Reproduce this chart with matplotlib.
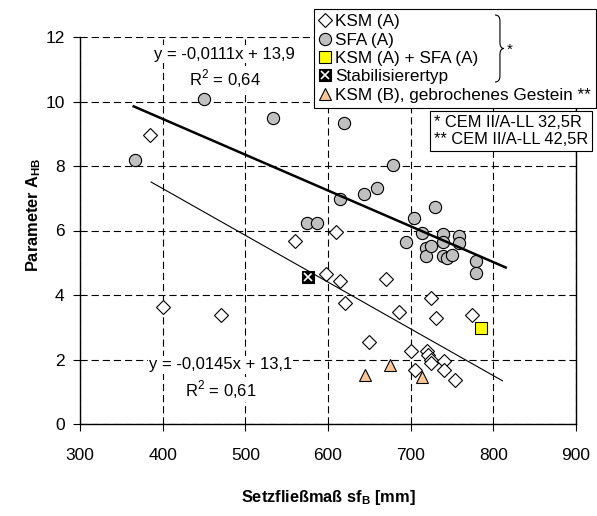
"""
Setzfliessmass vs. Parameter A_HB
=================================

Scatter chart with two linear trend lines.
"""

import matplotlib

matplotlib.use("Agg")

import matplotlib.pyplot as plt
from matplotlib.patches import PathPatch
from matplotlib.path import Path
import numpy as np

# =============================================================================
# DATA
# =============================================================================

ksm_a_x = [385, 401, 471, 560, 598, 610, 614, 620, 650, 670, 686, 700,
           705, 720, 721, 725, 725, 725, 731, 740, 740, 754, 774]
ksm_a_y = [8.96, 3.62, 3.38, 5.68, 4.65, 5.96, 4.44, 3.74, 2.53, 4.50, 3.46,
           2.25, 1.67, 2.27, 2.15, 3.90, 2.00, 1.88, 3.28, 1.96, 1.67, 1.36,
           3.39]

sfa_a_x = [366, 450, 534, 574, 587, 614, 619, 644, 659, 679, 694, 704, 714,
           718, 719, 724, 730, 739, 739, 739, 744, 750, 759, 759, 779, 779]
sfa_a_y = [8.19, 10.08, 9.50, 6.24, 6.24, 6.98, 9.32, 7.12, 7.32, 8.03, 5.65,
           6.40, 5.93, 5.46, 5.21, 5.52, 6.74, 5.88, 5.63, 5.22, 5.14, 5.25,
           5.83, 5.62, 5.06, 4.69]

mix_x = [785]
mix_y = [2.98]

stab_x = [576]
stab_y = [4.57]

ksm_b_x = [645, 675, 714]
ksm_b_y = [1.52, 1.83, 1.47]

# trend lines: slope, intercept, x range as drawn
trend_upper = (-0.0111, 13.9, 365, 815)
trend_lower = (-0.0145, 13.1, 386, 811)

x_ticks = [300, 400, 500, 600, 700, 800, 900]
y_ticks = [0, 2, 4, 6, 8, 10, 12]

legend_labels = [
    "KSM (A)",
    "SFA (A)",
    "KSM (A) + SFA (A)",
    "Stabilisierertyp",
    "KSM (B), gebrochenes Gestein **",
]

# =============================================================================
# STYLE
# =============================================================================

plt.rcParams["font.family"] = ["Liberation Sans", "DejaVu Sans"]
plt.rcParams["mathtext.fontset"] = "custom"
plt.rcParams["mathtext.rm"] = "Liberation Sans"
plt.rcParams["mathtext.bf"] = "Liberation Sans:bold"

W, H = 597, 516
GRID_DASH = (0, (6.5, 3.5))


def fx(px):
    return px / W


def fy(py):
    return 1 - py / H


def draw_brace(fig, x0, y_top, y_bot, width):
    """
    Draw a right curly brace in figure pixel coordinates.
    """

    ym = (y_top + y_bot) / 2
    xm = x0 + width * 0.55
    xt = x0 + width
    r = 6
    verts = [
        (x0, y_top), (xm, y_top), (xm, y_top + r),
        (xm, ym - r), (xm, ym), (xt, ym),
        (xm, ym), (xm, ym + r),
        (xm, y_bot - r), (xm, y_bot), (x0, y_bot),
    ]
    codes = [
        Path.MOVETO, Path.CURVE3, Path.CURVE3,
        Path.LINETO, Path.CURVE3, Path.CURVE3,
        Path.CURVE3, Path.CURVE3,
        Path.LINETO, Path.CURVE3, Path.CURVE3,
    ]
    verts = [(fx(a), fy(b)) for a, b in verts]
    patch = PathPatch(Path(verts, codes), transform=fig.transFigure,
                      facecolor="none", edgecolor="black", lw=0.8,
                      zorder=10)
    fig.add_artist(patch)


# =============================================================================
# FIGURE
# =============================================================================

fig = plt.figure(figsize=(W / 100, H / 100), dpi=100)
ax = fig.add_axes([fx(80), fy(424), fx(576) - fx(80), fy(37) - fy(424)])

ax.set_xlim(300, 900)
ax.set_ylim(0, 12)
ax.set_xticks(x_ticks)
ax.set_yticks(y_ticks)
ax.tick_params(direction="out", length=5, width=0.8, labelsize=12.5,
               colors="black")
ax.tick_params(axis="x", pad=12)
ax.tick_params(axis="y", pad=6)

ax.grid(True, color="black", linestyle=GRID_DASH, linewidth=0.8)
ax.set_axisbelow(True)
for side in ["left", "bottom", "right"]:
    ax.spines[side].set_linewidth(1.0)
ax.spines["top"].set_visible(False)

ax.set_xlabel(r"Setzfließmaß sf$_\mathbf{B}$ [mm]", fontsize=11.8,
              fontweight="bold", labelpad=18)
ax.set_ylabel(r"Parameter A$_\mathbf{HB}$", fontsize=11.8,
              fontweight="bold")
ax.yaxis.set_label_coords(-0.075, 0.54)

# scatter series
h_ksm, = ax.plot(ksm_a_x, ksm_a_y, "D", ms=7, mfc="white", mec="black",
                 mew=0.8, zorder=3)
h_sfa, = ax.plot(sfa_a_x, sfa_a_y, "o", ms=8.8, mfc="#c0c0c0", mec="black",
                 mew=0.8, zorder=3)
h_mix, = ax.plot(mix_x, mix_y, "s", ms=8, mfc="#ffff00", mec="black",
                 mew=0.8, zorder=3)
h_stab_sq, = ax.plot(stab_x, stab_y, "s", ms=9, mfc="black", mec="black",
                     mew=0.8, zorder=3)
h_stab_x, = ax.plot(stab_x, stab_y, "x", ms=6, mec="white", mew=1.2,
                    zorder=3)
h_ksm_b, = ax.plot(ksm_b_x, ksm_b_y, "^", ms=9, mfc="#fcc797", mec="black",
                   mew=0.8, zorder=3)

# trend lines
for (m, b, x0, x1), lw in [(trend_upper, 1.8), (trend_lower, 0.8)]:
    xs = np.array([x0, x1])
    ax.plot(xs, m * xs + b, color="black", lw=lw, zorder=4)

box_kw = dict(facecolor="white", edgecolor="none", pad=1)
ax.text(475, 11.47, "y = -0,0111x + 13,9", ha="center", va="center",
        fontsize=12, bbox=box_kw, zorder=5)
ax.text(475, 10.72, "R$^2$ = 0,64", ha="center", va="center",
        fontsize=12, bbox=box_kw, zorder=5)
ax.text(470, 1.83, "y = -0,0145x + 13,1", ha="center", va="center",
        fontsize=12, bbox=box_kw, zorder=5)
ax.text(470, 1.07, "R$^2$ = 0,61", ha="center", va="center",
        fontsize=12, bbox=box_kw, zorder=5)

# legend
handles = [h_ksm, h_sfa, h_mix, (h_stab_sq, h_stab_x), h_ksm_b]
leg = fig.legend(
    handles,
    legend_labels,
    loc="upper left",
    bbox_to_anchor=(fx(314), fy(9), fx(596) - fx(314), 0),
    mode="expand",
    fontsize=12.3,
    frameon=True,
    fancybox=False,
    edgecolor="black",
    framealpha=1,
    handlelength=0.7,
    handletextpad=0.25,
    labelspacing=0.2,
    borderpad=0.3,
    borderaxespad=0,
)
leg.get_frame().set_linewidth(0.8)

draw_brace(fig, 495, 15, 82, 9)
fig.text(fx(507), fy(50), "*", fontsize=11, ha="left", va="center",
         zorder=10)

fig.text(fx(434), fy(131), "* CEM II/A-LL 32,5R\n** CEM II/A-LL 42,5R",
         fontsize=11.8, ha="left", va="center", linespacing=1.15,
         bbox=dict(facecolor="white", edgecolor="black", lw=0.8,
                   boxstyle="square,pad=0.25"))

fig.savefig("out.png", dpi=100)
